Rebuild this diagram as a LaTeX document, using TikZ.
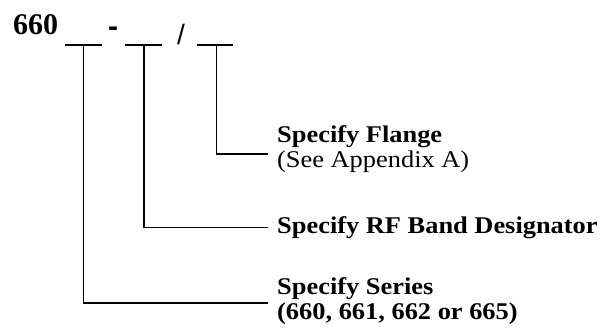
\documentclass[tikz,border=0pt]{standalone}
\usepackage{fontspec}
\setmainfont{Liberation Serif}
\newfontfamily\lblfont[FakeStretch=1.1]{Liberation Serif}
\newfontfamily\dashfont{Liberation Sans}
\usepackage{tikz}

\begin{document}
\begin{tikzpicture}[x=1pt,y=1pt,yscale=-1,xscale=1,
    bar/.style={line width=1.5pt},
    lead/.style={line width=1.5pt},
    lbl/.style={anchor=west,inner sep=0pt,align=left,font=\lblfont\fontsize{24}{25}\selectfont}]

    \useasboundingbox (0,0) rectangle (611,331);

    \node (num) at (13,35) [anchor=base west,inner sep=0pt] {\fontsize{30}{30}\selectfont\bfseries 660};
    \node (hyph) at (113,37) [anchor=base,inner sep=0pt] {\dashfont\fontsize{30}{30}\selectfont\bfseries -};
    \node (slash) at (181,44.5) [anchor=base,inner sep=0pt] {\dashfont\fontsize{28}{28}\selectfont /};

    % slots
    \coordinate (s1) at (83.5,45);
    \coordinate (s2) at (144,45);
    \coordinate (s3) at (216.5,45);
    \draw [bar] ([xshift=-18.5]s1) -- ([xshift=18.5]s1);
    \draw [bar] ([xshift=-19]s2) -- ([xshift=18]s2);
    \draw [bar] ([xshift=-19.5]s3) -- ([xshift=16.5]s3);

    % labels
    \node (flange) at (277,148.8) [lbl] {\textbf{Specify Flange}\\(See Appendix A)};
    \node (band) at (277,227.3) [lbl] {\textbf{Specify RF Band Designator}};
    \node (series) at (277,300.8) [lbl] {\textbf{Specify Series}\\\textbf{(660, 661, 662 or 665)}};

    \coordinate (e3) at (268,154);
    \coordinate (e2) at (268,227.5);
    \coordinate (e1) at (268,303);

    \draw [lead] (s3) |- (e3);
    \draw [lead] (s2) |- (e2);
    \draw [lead] (s1) |- (e1);

\end{tikzpicture}
\end{document}
